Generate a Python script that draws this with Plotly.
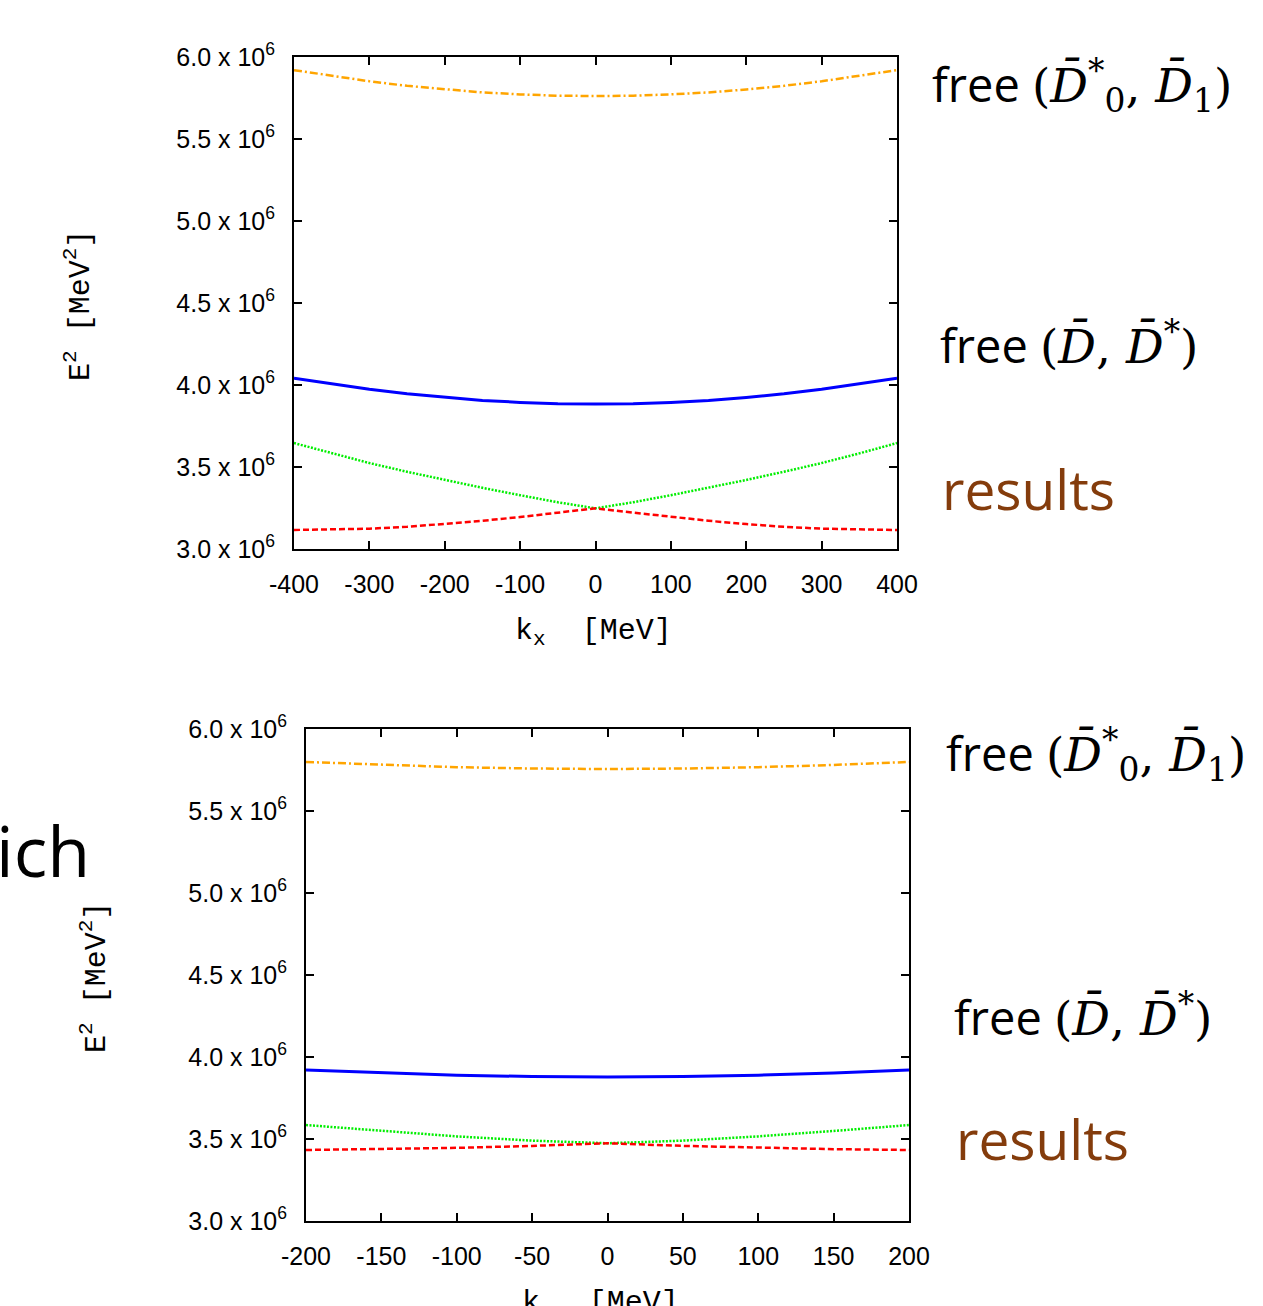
import plotly.graph_objects as go

# ---------------- data (E^2 in MeV^2, k in MeV) ----------------
k_top = [-400, -350, -300, -250, -200, -150, -100, -50, 0, 50, 100, 150, 200, 250, 300, 350, 400]
orange_top = [5.920e6, 5.884e6, 5.852e6, 5.824e6, 5.802e6, 5.784e6, 5.772e6, 5.764e6, 5.762e6,
              5.764e6, 5.772e6, 5.784e6, 5.802e6, 5.824e6, 5.852e6, 5.884e6, 5.920e6]
blue_top = [4.042e6, 4.006e6, 3.974e6, 3.946e6, 3.924e6, 3.906e6, 3.894e6, 3.886e6, 3.884e6,
            3.886e6, 3.894e6, 3.906e6, 3.924e6, 3.946e6, 3.974e6, 4.006e6, 4.042e6]
green_top = [3.646e6, 3.583e6, 3.524e6, 3.471e6, 3.421e6, 3.373e6, 3.328e6, 3.285e6, 3.248e6,
             3.285e6, 3.328e6, 3.373e6, 3.421e6, 3.471e6, 3.524e6, 3.583e6, 3.646e6]
red_top = [3.116e6, 3.118e6, 3.124e6, 3.135e6, 3.152e6, 3.172e6, 3.195e6, 3.222e6, 3.248e6,
           3.222e6, 3.195e6, 3.172e6, 3.152e6, 3.135e6, 3.124e6, 3.118e6, 3.116e6]

k_bot = [-200, -150, -100, -50, 0, 50, 100, 150, 200]
orange_bot = [5.799e6, 5.781e6, 5.767e6, 5.759e6, 5.756e6, 5.759e6, 5.767e6, 5.781e6, 5.799e6]
blue_bot = [3.921e6, 3.903e6, 3.889e6, 3.881e6, 3.878e6, 3.881e6, 3.889e6, 3.903e6, 3.921e6]
green_bot = [3.585e6, 3.549e6, 3.516e6, 3.490e6, 3.474e6, 3.490e6, 3.516e6, 3.549e6, 3.585e6]
red_bot = [3.433e6, 3.438e6, 3.446e6, 3.458e6, 3.474e6, 3.458e6, 3.446e6, 3.438e6, 3.433e6]

y_tickvals = [3.0e6, 3.5e6, 4.0e6, 4.5e6, 5.0e6, 5.5e6, 6.0e6]
y_ticktext = ["3.0 x 10<sup>6</sup>", "3.5 x 10<sup>6</sup>", "4.0 x 10<sup>6</sup>",
              "4.5 x 10<sup>6</sup>", "5.0 x 10<sup>6</sup>", "5.5 x 10<sup>6</sup>",
              "6.0 x 10<sup>6</sup>"]
x_top_ticks = [-400, -300, -200, -100, 0, 100, 200, 300, 400]
x_top_text = ["-400", "-300", "-200", "-100", "0", "100", "200", "300", "400"]
x_bot_ticks = [-200, -150, -100, -50, 0, 50, 100, 150, 200]
x_bot_text = ["-200", "-150", "-100", "-50", "0", "50", "100", "150", "200"]

# ---------------- figure ----------------
W, H = 1263, 1306
fig = go.Figure()

styles = [
    ("#FFA500", "8px,3px,2px,3px", 2.5),
    ("#0000FF", "solid", 3),
    ("#00EE00", "2px,1.5px", 2.5),
    ("#FF0000", "6px,3px", 2.5),
]

for series, (c, d, w) in zip([orange_top, blue_top, green_top, red_top], styles):
    fig.add_trace(go.Scatter(x=k_top, y=series, mode="lines", xaxis="x", yaxis="y",
                             line=dict(color=c, dash=d, width=w), showlegend=False))
for series, (c, d, w) in zip([orange_bot, blue_bot, green_bot, red_bot], styles):
    fig.add_trace(go.Scatter(x=k_bot, y=series, mode="lines", xaxis="x2", yaxis="y2",
                             line=dict(color=c, dash=d, width=w), showlegend=False))

tickfont = dict(family="Liberation Sans, Arial, sans-serif", size=25, color="black")
axis_common = dict(showline=True, linecolor="black", linewidth=2, mirror="ticks",
                   ticks="inside", ticklen=8, tickwidth=2, tickcolor="black",
                   showgrid=False, zeroline=False, tickfont=tickfont, automargin=False)

def px_dom_x(a, b):
    return [a / W, b / W]

def px_dom_y(top, bottom):
    return [1 - bottom / H, 1 - top / H]

fig.update_layout(
    width=W, height=H,
    margin=dict(l=0, r=0, t=0, b=0, pad=0),
    paper_bgcolor="white", plot_bgcolor="white",
    xaxis=dict(domain=px_dom_x(294, 897), range=[-400, 400], tickvals=x_top_ticks,
               ticktext=x_top_text, anchor="y", ticklabelstandoff=12, **axis_common),
    yaxis=dict(domain=px_dom_y(57, 549), range=[3.0e6, 6.0e6], tickvals=y_tickvals,
               ticktext=y_ticktext, anchor="x", ticklabelstandoff=12, **axis_common),
    xaxis2=dict(domain=px_dom_x(306, 909), range=[-200, 200], tickvals=x_bot_ticks,
                ticktext=x_bot_text, anchor="y2", ticklabelstandoff=12, **axis_common),
    yaxis2=dict(domain=px_dom_y(729, 1221), range=[3.0e6, 6.0e6], tickvals=y_tickvals,
                ticktext=y_ticktext, anchor="x2", ticklabelstandoff=12, **axis_common),
)

mono = dict(family="Liberation Mono, DejaVu Sans Mono, monospace", size=30, color="black")
label_font = dict(family="Open Sans, Noto Sans, sans-serif", size=47, color="black")
brown = dict(family="Open Sans, Noto Sans, sans-serif", size=55, color="#843C0C")
math = "font-family:DejaVu Serif"

def ann(x, y, text, font, xanchor="center", yanchor="middle", angle=0):
    fig.add_annotation(x=x / W, y=1 - y / H, xref="paper", yref="paper",
                       text=text, showarrow=False, font=font, xanchor=xanchor,
                       yanchor=yanchor, textangle=angle)

# axis titles
ann(79, 306, "E<sup>2</sup> [MeV<sup>2</sup>]", mono, angle=-90)
ann(94, 977, "E<sup>2</sup> [MeV<sup>2</sup>]", mono, angle=-90)
ann(593, 632, "k<sub>x</sub>  [MeV]", mono)
ann(600, 1304, "k<sub>x</sub>  [MeV]", mono)

# side labels
lab1 = ("free <span style='" + math + "'>(<i>D̄</i><sup>*</sup><sub>0</sub>, <i>D̄</i><sub>1</sub>)</span>")
lab2 = ("free <span style='" + math + "'>(<i>D̄</i>, <i>D̄</i><sup>*</sup>)</span>")

ann(930, 85, lab1, label_font, xanchor="left")
ann(938, 345, lab2, label_font, xanchor="left")
ann(940, 488, "results", brown, xanchor="left")
ann(944, 755, lab1, label_font, xanchor="left")
ann(952, 1017, lab2, label_font, xanchor="left")
ann(954, 1138, "results", brown, xanchor="left")

ann(-6, 850, "ich", dict(family="Open Sans, Noto Sans, sans-serif", size=70, color="black"),
    xanchor="left")

fig.write_html("out.html",
               config={"displayModeBar": False},
               post_script="document.body.style.margin='0px';")
